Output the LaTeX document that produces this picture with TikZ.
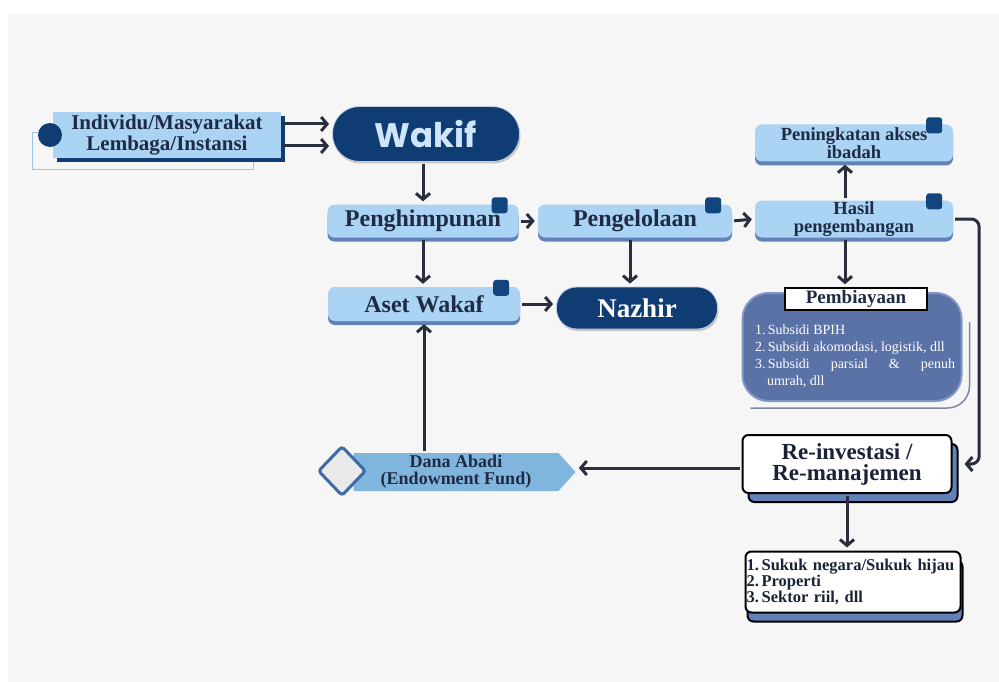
\documentclass[tikz,border=0pt]{standalone}
\usepackage{fontspec}
\setmainfont{Liberation Serif}
\newfontfamily\wakiffont{Poppins}
\usetikzlibrary{positioning, calc, arrows.meta, shadows, shapes.geometric, shapes.symbols}

\definecolor{bggray}{HTML}{F6F6F6}
\definecolor{boxblue}{HTML}{AAD3F4}
\definecolor{shadowblue}{HTML}{6282B7}
\definecolor{darkblue}{HTML}{0F3D73}
\definecolor{tagblue}{HTML}{12457E}
\definecolor{navytext}{HTML}{1F2B44}
\definecolor{arrowcol}{HTML}{2B2E3C}
\definecolor{pembblue}{HTML}{5A72A6}
\definecolor{pembline}{HTML}{8197C6}
\definecolor{arccol}{HTML}{7E879C}
\definecolor{danablue}{HTML}{80B5DD}
\definecolor{diagray}{HTML}{E9E9E9}
\definecolor{diablue}{HTML}{3E6AA8}
\definecolor{outlineblue}{HTML}{9CC7EA}
\definecolor{wakiftext}{HTML}{CFE6FA}

\begin{document}
\begin{tikzpicture}[x = 1pt, y = -1pt]
\begin{scope}[
	lightbox/.style={
		fill=boxblue, rounded corners=7pt, inner sep=0pt, align=center,
		text=navytext, font=\bfseries\fontsize{24}{24}\selectfont,
		drop shadow={shadow xshift=0pt, shadow yshift=-4pt, fill=shadowblue, opacity=1}
	},
	pill/.style={
		fill=darkblue, inner sep=0pt, draw=shadowblue!40, line width=0.8pt,
		drop shadow={shadow xshift=1pt, shadow yshift=-2pt, fill=black!35, opacity=0.6}
	},
	whitebox/.style={
		fill=white, draw=black, line width=2pt, rounded corners=6pt, inner sep=0pt,
		text=navytext!80!black
	},
	tagsq/.style={fill=tagblue, rounded corners=3pt, minimum size=16pt, inner sep=0pt},
	arr/.style={
		draw=arrowcol, line width=3pt, -{Straight Barb[length=6pt, width=14pt]},
		shorten >=3pt, shorten <=2pt
	}
]
\useasboundingbox (0, 0) rectangle (999, 682);
\fill[white] (0, 0) rectangle (999, 682);
\fill[bggray] (8, 14) rectangle (999, 682);

\draw[outlineblue, line width=1pt] (32, 133) rectangle (253, 170);
\node[fill=boxblue, minimum width=228pt, minimum height=46pt, inner sep=0pt, align=center,
	text=navytext, font=\bfseries\fontsize{21}{19}\selectfont,
	drop shadow={shadow xshift=4pt, shadow yshift=-4pt, fill=darkblue, opacity=1}]
	(indiv) at (167, 135) {Individu/Masyarakat\\Lembaga/Instansi};
\node[circle, fill=darkblue, minimum size=24pt, inner sep=0pt] (indiv-dot) at (50, 135) {};

\node[pill, rounded corners=27pt, minimum width=187pt, minimum height=55pt,
	text=wakiftext, font=\wakiffont\bfseries\fontsize{34}{34}\selectfont]
	(wakif) at (426, 134) {Wakif};

\node[lightbox, minimum width=191pt, minimum height=33pt] (pengh) at (423, 221) {Penghimpunan};
\node[lightbox, minimum width=194pt, minimum height=33pt] (pengel) at (635, 221) {Pengelolaan};
\node[lightbox, minimum width=198pt, minimum height=37pt,
	font=\bfseries\fontsize{18.5}{18}\selectfont] (hasil) at (854, 219) {Hasil\\pengembangan};
\node[lightbox, minimum width=198pt, minimum height=37pt,
	font=\bfseries\fontsize{18.5}{16}\selectfont] (pening) at (854, 143) {Peningkatan akses\\ibadah};
\node[lightbox, minimum width=192pt, minimum height=34pt] (aset) at (424, 304) {Aset Wakaf};
\node[pill, rounded corners=20pt, minimum width=161pt, minimum height=42pt,
	text=white, font=\bfseries\fontsize{27}{27}\selectfont]
	(nazhir) at (637, 308) {Nazhir};

\foreach \b in {pengh, pengel, hasil, pening, aset} {
	\node[tagsq] (sq-\b) at ([xshift=-19pt, yshift=-1pt]\b.north east) {};
}

\node[fill=pembblue, draw=pembline, line width=2pt, rounded corners=26pt,
	minimum width=219pt, minimum height=108pt] (pemb) at (852, 347) {};
\draw[arccol, line width=1.5pt, rounded corners=22pt]
	([xshift=7pt, yshift=-30pt]pemb.north east) |- ([xshift=9pt, yshift=-6pt]pemb.south west);
\node[fill=white, draw=black, line width=1.5pt, minimum width=142pt, minimum height=22pt,
	inner sep=0pt, font=\bfseries\fontsize{19}{19}\selectfont, text=navytext]
	(pemb-head) at (856, 299) {Pembiayaan};
\node[text=white, align=left, inner sep=0pt, font=\fontsize{14}{17}\selectfont]
	(pemb-list) at (855, 356) {1.\,Subsidi BPIH\\2.\,Subsidi akomodasi, logistik, dll\\
	\makebox[200pt][s]{3.\,Subsidi parsial \& penuh}\\\hspace*{12pt}umrah, dll};

\node[whitebox, minimum width=209pt, minimum height=58pt, align=center,
	font=\bfseries\fontsize{23}{21}\selectfont,
	drop shadow={shadow xshift=6pt, shadow yshift=-9pt, fill=shadowblue, draw=black, opacity=1}]
	(reinv) at (847, 464) {Re-investasi /\\Re-manajemen};
\node[whitebox, minimum width=215pt, minimum height=61pt, align=left, text width=213pt,
	font=\bfseries\fontsize{16.5}{16}\selectfont,
	drop shadow={shadow xshift=2pt, shadow yshift=-9pt, fill=shadowblue, draw=black, opacity=1}]
	(list) at (853, 582) {\mbox{1.\,Sukuk negara/Sukuk hijau}\\2.\,Properti\\3.\,Sektor riil, dll};

\node[signal, signal to=east, signal pointer angle=96, fill=danablue, minimum width=222pt,
	minimum height=38pt, inner sep=0pt, align=center, text=navytext,
	font=\bfseries\fontsize{18}{17}\selectfont]
	(dana) at (456, 472) {Dana Abadi\\(Endowment Fund)};
\node[diamond, fill=diagray, draw=diablue, line width=3pt, rounded corners=3pt,
	minimum width=48pt, minimum height=50pt, inner sep=0pt] (dana-mark) at (342, 471) {};

\draw[arr] ([yshift=11pt]indiv.east) -- ([yshift=11pt]indiv.east -| wakif.west);
\draw[arr] ([yshift=-11pt]indiv.east) -- ([yshift=-11pt]indiv.east -| wakif.west);
\draw[arr] (pengh.north |- wakif.south) -- (pengh.north);
\draw[arr] (pengh.east) -- (pengel.west);
\draw[arr] (pengel.east) -- (hasil.west);
\draw[arr] ([xshift=-9pt]hasil.north) -- ([xshift=-9pt]pening.south);
\draw[arr] (pengh.south) -- (pengh.south |- aset.north);
\draw[arr] (aset.east) -- (aset.east -| nazhir.west);
\draw[arr] ([xshift=-5pt]pengel.south) -- ([xshift=-5pt]pengel.south |- nazhir.north);
\draw[arr] ([xshift=-9pt]hasil.south) -- ([xshift=-9pt]hasil.south |- pemb-head.north);
\draw[arr, rounded corners=8pt] (hasil.east) -- ++(26, 0) |- ([xshift=9pt]reinv.east);
\draw[arr] ([yshift=-4pt]reinv.west) -- ([yshift=-4pt]reinv.west -| dana.east);
\draw[arr] (aset.south |- dana.north) -- (aset.south);
\draw[arr] (reinv.south) -- (reinv.south |- list.north);
\end{scope}
\end{tikzpicture}
\end{document}
